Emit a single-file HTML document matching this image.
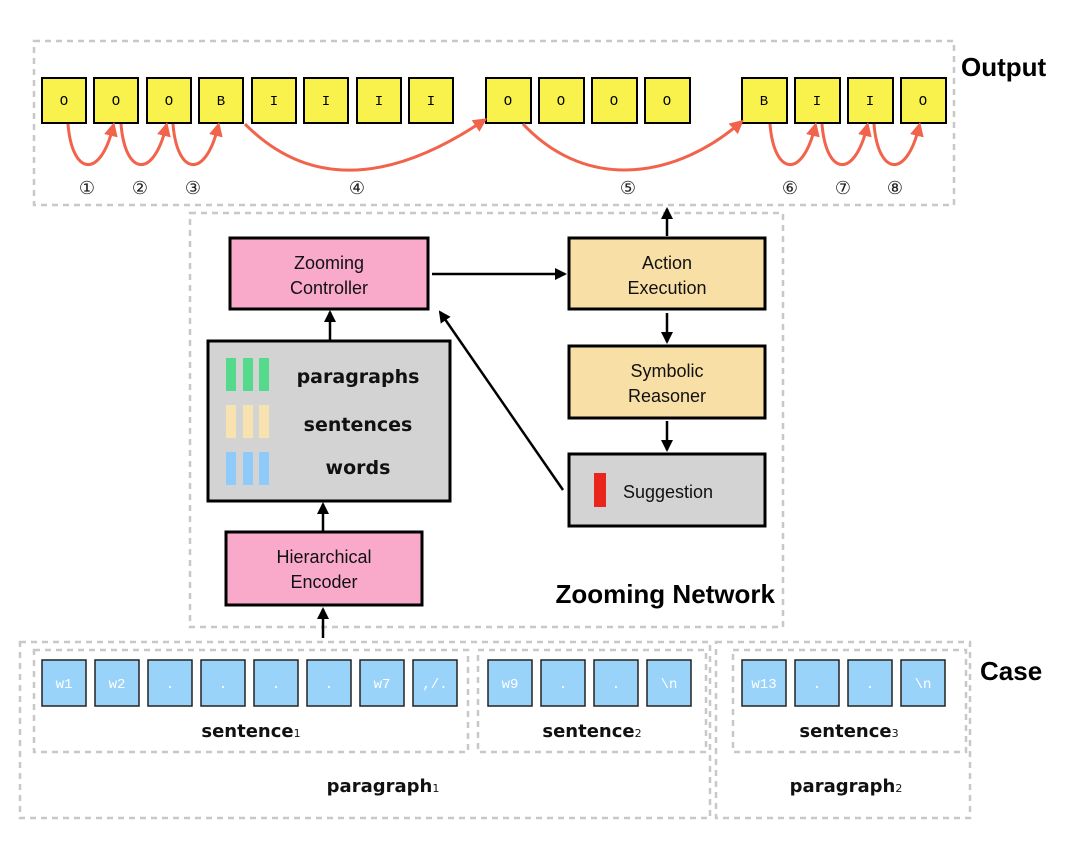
<!DOCTYPE html>
<html><head><meta charset="utf-8"><style>
html,body{margin:0;padding:0;background:#fff;}
svg{display:block;}
text{font-family:"Liberation Sans",sans-serif;}
.m text{font-family:"Liberation Mono",monospace;font-size:14px;}
.d text{font-family:"DejaVu Sans",sans-serif;}
</style></head><body>
<svg width="1080" height="859" viewBox="0 0 1080 859" xmlns="http://www.w3.org/2000/svg">
<defs>
<marker id="ra" markerWidth="14" markerHeight="14" refX="9" refY="7" orient="auto" markerUnits="userSpaceOnUse"><path d="M0,0 L14,7 L0,14 Z" fill="#f2634c"/></marker>
<marker id="ba" markerWidth="12" markerHeight="12" refX="10" refY="6" orient="auto" markerUnits="userSpaceOnUse"><path d="M0,0 L12,6 L0,12 Z" fill="#000"/></marker>
</defs>
<g fill="none" stroke="#c8c8c8" stroke-width="2.5" stroke-dasharray="6,5">
<rect x="34" y="41" width="920" height="164"/>
<rect x="190" y="213" width="593" height="414"/>
<rect x="20" y="642" width="690" height="176"/>
<rect x="716" y="642" width="254" height="176"/>
<rect x="34" y="650" width="434" height="102"/>
<rect x="478" y="650" width="228" height="102"/>
<rect x="733" y="650" width="233" height="102"/>
</g>
<text x="961" y="76" font-size="26" font-weight="bold">Output</text>
<text x="980" y="680" font-size="26" font-weight="bold">Case</text>
<text x="775" y="603" font-size="26" font-weight="bold" text-anchor="end">Zooming Network</text>
<g stroke="#000" stroke-width="2" fill="#f9f24d">
<rect x="42" y="78" width="44" height="45"/><rect x="94" y="78" width="44" height="45"/><rect x="147" y="78" width="44" height="45"/><rect x="199" y="78" width="44" height="45"/><rect x="252" y="78" width="44" height="45"/><rect x="304" y="78" width="44" height="45"/><rect x="357" y="78" width="44" height="45"/><rect x="409" y="78" width="44" height="45"/>
<rect x="486" y="78" width="45" height="45"/><rect x="539" y="78" width="45" height="45"/><rect x="592" y="78" width="45" height="45"/><rect x="645" y="78" width="45" height="45"/>
<rect x="742" y="78" width="45" height="45"/><rect x="795" y="78" width="45" height="45"/><rect x="848" y="78" width="45" height="45"/><rect x="901" y="78" width="45" height="45"/>
</g>
<g class="m" text-anchor="middle">
<text x="64" y="105">O</text><text x="116" y="105">O</text><text x="169" y="105">O</text><text x="221" y="105">B</text><text x="274" y="105">I</text><text x="326" y="105">I</text><text x="379" y="105">I</text><text x="431" y="105">I</text>
<text x="508" y="105">O</text><text x="561" y="105">O</text><text x="614" y="105">O</text><text x="667" y="105">O</text>
<text x="764" y="105">B</text><text x="817" y="105">I</text><text x="870" y="105">I</text><text x="923" y="105">O</text>
</g>
<g fill="none" stroke="#f2634c" stroke-width="3" marker-end="url(#ra)">
<path d="M68,124 C72,175 100,180 113,127"/>
<path d="M121,124 C125,175 153,180 166,127"/>
<path d="M173,124 C177,175 205,180 218,127"/>
<path d="M245,124 C320,200 410,170 483,121"/>
<path d="M523,124 C590,195 680,175 740,123"/>
<path d="M770,124 C774,175 802,180 815,127"/>
<path d="M822,124 C826,175 854,180 867,127"/>
<path d="M874,124 C878,175 906,180 919,127"/>
</g>
<g font-size="18" text-anchor="middle" fill="#222">
<text x="87" y="194">①</text><text x="140" y="194">②</text><text x="193" y="194">③</text><text x="357" y="194">④</text><text x="628" y="194">⑤</text><text x="790" y="194">⑥</text><text x="843" y="194">⑦</text><text x="895" y="194">⑧</text>
</g>
<g stroke="#000" stroke-width="3">
<rect x="230" y="238" width="198" height="71" fill="#f9a9c9"/>
<rect x="569" y="238" width="196" height="71" fill="#f8dfa6"/>
<rect x="569" y="346" width="196" height="72" fill="#f8dfa6"/>
<rect x="569" y="454" width="196" height="72" fill="#d3d3d3"/>
<rect x="208" y="341" width="242" height="160" fill="#d3d3d3"/>
<rect x="226" y="532" width="196" height="73" fill="#f9a9c9"/>
</g>
<g font-size="18" text-anchor="middle" fill="#111">
<text x="329" y="269">Zooming</text><text x="329" y="294">Controller</text>
<text x="667" y="269">Action</text><text x="667" y="294">Execution</text>
<text x="667" y="377">Symbolic</text><text x="667" y="402">Reasoner</text>
<text x="324" y="563">Hierarchical</text><text x="324" y="588">Encoder</text>
<text x="668" y="498">Suggestion</text>
</g>
<rect x="594" y="473" width="12" height="34" fill="#e8261b"/>
<g fill="#55d98b"><rect x="226" y="358" width="10" height="33"/><rect x="243" y="358" width="10" height="33"/><rect x="259" y="358" width="10" height="33"/></g>
<g fill="#f8e3b0"><rect x="226" y="405" width="10" height="33"/><rect x="243" y="405" width="10" height="33"/><rect x="259" y="405" width="10" height="33"/></g>
<g fill="#8ecafa"><rect x="226" y="452" width="10" height="33"/><rect x="243" y="452" width="10" height="33"/><rect x="259" y="452" width="10" height="33"/></g>
<g class="d" font-size="19" font-weight="bold" text-anchor="middle" fill="#111">
<text x="358" y="383">paragraphs</text>
<text x="358" y="431">sentences</text>
<text x="358" y="474">words</text>
</g>
<g stroke="#000" stroke-width="2.5" marker-end="url(#ba)">
<line x1="432" y1="274" x2="565" y2="274"/>
<line x1="667" y1="313" x2="667" y2="342"/>
<line x1="667" y1="421" x2="667" y2="450"/>
<line x1="563" y1="490" x2="440" y2="312"/>
<line x1="330" y1="340" x2="330" y2="312"/>
<line x1="323" y1="531" x2="323" y2="504"/>
<line x1="323" y1="638" x2="323" y2="609"/>
<line x1="667" y1="236" x2="667" y2="209"/>
</g>
<g stroke="#222" stroke-width="1.5" fill="#9ad3fa">
<rect x="42" y="660" width="44" height="46"/><rect x="95" y="660" width="44" height="46"/><rect x="148" y="660" width="44" height="46"/><rect x="201" y="660" width="44" height="46"/><rect x="254" y="660" width="44" height="46"/><rect x="307" y="660" width="44" height="46"/><rect x="360" y="660" width="44" height="46"/><rect x="413" y="660" width="44" height="46"/>
<rect x="488" y="660" width="44" height="46"/><rect x="541" y="660" width="44" height="46"/><rect x="594" y="660" width="44" height="46"/><rect x="647" y="660" width="44" height="46"/>
<rect x="742" y="660" width="44" height="46"/><rect x="795" y="660" width="44" height="46"/><rect x="848" y="660" width="44" height="46"/><rect x="901" y="660" width="44" height="46"/>
</g>
<g class="m" fill="#fff" text-anchor="middle">
<text x="64" y="688">w1</text><text x="117" y="688">w2</text><text x="170" y="688">.</text><text x="223" y="688">.</text><text x="276" y="688">.</text><text x="329" y="688">.</text><text x="382" y="688">w7</text><text x="435" y="688">,/.</text>
<text x="510" y="688">w9</text><text x="563" y="688">.</text><text x="616" y="688">.</text><text x="669" y="688">\n</text>
<text x="764" y="688">w13</text><text x="817" y="688">.</text><text x="870" y="688">.</text><text x="923" y="688">\n</text>
</g>
<g class="d" font-size="18" font-weight="bold" text-anchor="middle" fill="#111">
<text x="251" y="737">sentence<tspan font-size="11" font-weight="normal">1</tspan></text>
<text x="592" y="737">sentence<tspan font-size="11" font-weight="normal">2</tspan></text>
<text x="849" y="737">sentence<tspan font-size="11" font-weight="normal">3</tspan></text>
<text x="383" y="792">paragraph<tspan font-size="11" font-weight="normal">1</tspan></text>
<text x="846" y="792">paragraph<tspan font-size="11" font-weight="normal">2</tspan></text>
</g>
</svg>
</body></html>
